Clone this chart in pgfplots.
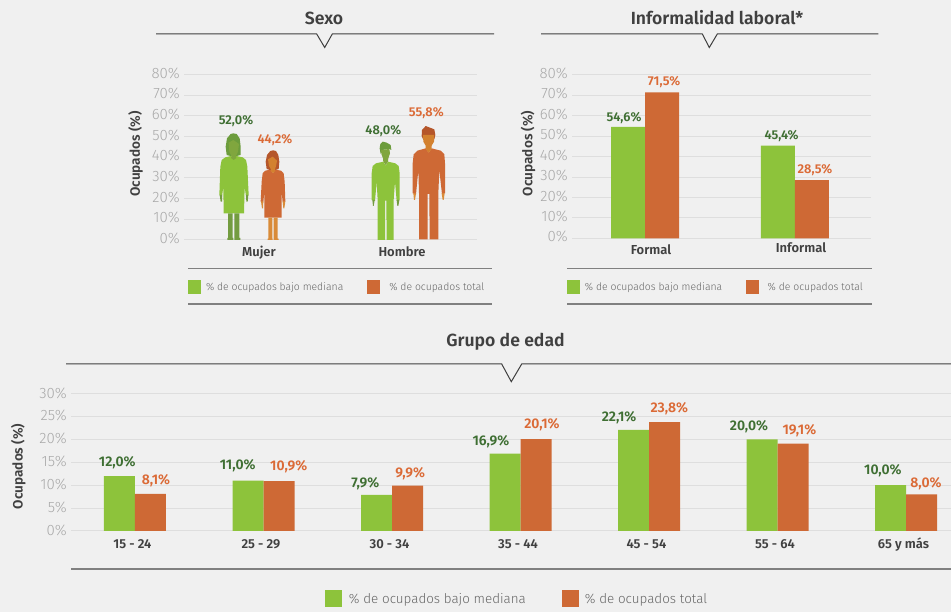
\documentclass[border=0pt]{standalone}
\usepackage{pgfplots}
\pgfplotsset{compat=1.18}
\usepackage{fontspec}
\setmainfont{Fira Sans}
\newfontfamily\fmed{Fira Sans SemiBold}
\newfontfamily\flight{Fira Sans Light}
\definecolor{bg}{HTML}{F0F0F0}
\definecolor{vg}{HTML}{8DC33B}
\definecolor{na}{HTML}{CE6935}
\definecolor{lg}{HTML}{3F6F33}
\definecolor{lo}{HTML}{DB6A36}
\definecolor{gridc}{HTML}{DEDEDE}
\definecolor{tick}{HTML}{A9A9A9}
\definecolor{dk}{HTML}{404040}
\definecolor{gh}{HTML}{6C9C3C}
\definecolor{gf}{HTML}{80A63E}
\definecolor{gl}{HTML}{739C40}
\definecolor{oh}{HTML}{B5562A}
\definecolor{of}{HTML}{D3812F}
\definecolor{ol}{HTML}{D98B38}
\pgfplotsset{
 base/.style={
  scale only axis, clip=false, anchor=south west,
  axis line style={draw=none}, major tick length=0pt,
  ymajorgrids, grid style={gridc,line width=1pt},
  /pgf/number format/assume math mode=true,
  yticklabel style={font=\flight\fontsize{15}{15}\selectfont,text=tick,inner sep=0pt,xshift=-4pt,yshift=1.5pt},
  xticklabel style={font=\fmed\fontsize{13}{14}\selectfont,text=dk,text height=10pt,text depth=3pt},
  yticklabel={\pgfmathprintnumber{\tick}\%},
  legend cell align=left,
  legend image code/.code={\fill[#1] (0pt,-7pt) rectangle (13pt,7pt);},
  legend style={draw=none,fill=none,inner sep=0pt,outer sep=0pt,anchor=west,
    nodes={inner sep=0pt,outer sep=0pt,text=dk!80},
    font=\flight\fontsize{10.4}{12}\selectfont},
 },
 person/.style={forget plot,draw=none,
  x filter/.expression={120+x/3},
  y filter/.expression={(720-y)*80/496}},
}
\newcommand{\vl}[4]{\node[font=\fmed\fontsize{#4}{14}\selectfont,text=#3] at (axis cs:#1) {#2};}
\begin{document}
\begin{tikzpicture}[x=1pt,y=1pt]
\fill[bg] (0,0) rectangle (951,612);
\useasboundingbox (0,0) rectangle (951,612);

% ---------- Sexo
\begin{axis}[base, at={(184pt,372pt)}, width=293pt, height=165.33pt,
  xmin=184, xmax=477, ymin=0, ymax=80, ytick={0,10,...,80},
  xtick={259,402}, xticklabels={Mujer,Hombre}, xticklabel style={yshift=-3pt},
  every axis y label/.style={at={(axis description cs:-0.165,0.52)},rotate=90,anchor=center},
  ylabel={\fmed\fontsize{13.6}{14}\selectfont\color{dk}Ocupados (\%)},
  legend columns=2,
  legend style={at={(axis description cs:0.0137,-0.284)},
    /tikz/column 2/.style={column sep=24pt},/tikz/column 1/.style={column sep=5pt},/tikz/column 3/.style={column sep=9pt}},
]
\addlegendimage{fill=vg,draw=none}\addlegendentry{\% de ocupados bajo mediana}
\addlegendimage{fill=na,draw=none}\addlegendentry{\% de ocupados total}
% woman, green
\addplot[person,fill=vg] coordinates {(333,468)(341,478)(349,468)(368,472)(378,480)(382,500)(386,585)(378,590)(374,560)(372,640)(311,640)(310,560)(306,590)(298,585)(301,500)(305,480)(316,472)};
\addplot[person,fill=gh] coordinates {(320,465)(317,440)(321,415)(332,402)(340,400)(350,402)(359,415)(362,440)(362,465)(350,468)(332,468)};
\addplot[person,fill=gf] coordinates {(326,428)(340,420)(357,432)(354,455)(348,468)(349,474)(341,480)(333,474)(334,468)(328,455)};
\addplot[person,fill=gl] coordinates {(299,585)(306,585)(306,605)(302,605)};
\addplot[person,fill=gl] coordinates {(378,585)(385,585)(383,605)(379,605)};
\addplot[person,fill=gl] coordinates {(324,640)(338,640)(338,714)(340,714)(340,720)(322,720)(322,714)(324,714)};
\addplot[person,fill=gl] coordinates {(343,640)(358,640)(358,714)(361,714)(361,720)(343,720)};
% woman, orange
\addplot[person,fill=na] coordinates {(451,509)(459,519)(466,509)(483,512)(491,520)(494,545)(496,605)(488,607)(485,575)(485,653)(433,653)(433,575)(430,607)(422,605)(425,545)(428,520)(436,512)};
\addplot[person,fill=oh] coordinates {(440,507)(437,485)(441,465)(451,453)(459,451)(468,453)(475,465)(478,485)(476,507)(466,510)(450,510)};
\addplot[person,fill=of] coordinates {(444,478)(458,470)(471,482)(468,498)(465,508)(466,513)(459,519)(452,513)(453,508)(447,498)};
\addplot[person,fill=ol] coordinates {(423,604)(430,604)(429,625)(426,625)};
\addplot[person,fill=ol] coordinates {(488,604)(496,604)(493,625)(490,625)};
\addplot[person,fill=ol] coordinates {(445,653)(457,653)(457,716)(458,716)(458,720)(443,720)(443,716)(445,716)};
\addplot[person,fill=ol] coordinates {(461,653)(473,653)(473,716)(476,716)(476,720)(461,720)};
% man, green
\addplot[person,fill=vg] coordinates {(790,485)(797,497)(804,485)(826,490)(836,498)(839,520)(839,600)(830,603)(825,545)(821,600)(821,720)(800,720)(799,602)(795,602)(795,720)(773,720)(773,600)(770,545)(765,603)(755,600)(755,520)(758,498)(768,490)};
\addplot[person,fill=gh] coordinates {(779,445)(781,432)(788,425)(800,428)(812,435)(814,450)(808,447)(785,450)(782,462)};
\addplot[person,fill=gf] coordinates {(783,450)(808,447)(810,460)(805,475)(804,485)(797,495)(790,485)(789,475)(784,462)};
\addplot[person,fill=gl] coordinates {(757,600)(764,600)(761,618)(759,618)};
\addplot[person,fill=gl] coordinates {(830,600)(838,600)(835,618)(832,618)};
% man, orange
\addplot[person,fill=na] coordinates {(917,445)(926,458)(935,445)(962,452)(973,463)(975,490)(975,580)(966,583)(958,510)(955,580)(955,718)(929,718)(928,582)(923,582)(923,718)(897,718)(897,580)(895,510)(888,583)(878,580)(878,490)(881,463)(892,452)};
\addplot[person,fill=oh] coordinates {(905,408)(906,390)(917,378)(930,383)(943,388)(946,405)(943,418)(935,405)(912,405)(910,420)};
\addplot[person,fill=of] coordinates {(909,405)(942,405)(942,425)(935,437)(935,447)(926,458)(917,447)(917,437)(910,425)};
\addplot[person,fill=ol] coordinates {(880,580)(888,580)(885,600)(882,600)};
\addplot[person,fill=ol] coordinates {(965,580)(974,580)(971,600)(968,600)};
\vl{236,57.7}{52,0\%}{lg}{12.8}
\vl{275,48.4}{44,2\%}{lo}{12.8}
\vl{383.3,52.9}{48,0\%}{lg}{12.8}
\vl{426.3,61.5}{55,8\%}{lo}{12.8}
\end{axis}

% ---------- Informalidad
\begin{axis}[base, at={(572pt,373.7pt)}, width=299pt, height=163.3pt,
  xmin=-0.487, xmax=1.507, ymin=0, ymax=80, ytick={0,10,...,80},
  xtick={0.04,1.04}, xticklabels={Formal,\raisebox{2pt}{Informal}}, xticklabel style={yshift=-3pt},
  every axis y label/.style={at={(axis description cs:-0.147,0.52)},rotate=90,anchor=center},
  ylabel={\fmed\fontsize{13.6}{14}\selectfont\color{dk}Ocupados (\%)},
  legend columns=2,
  legend style={at={(axis description cs:-0.017,-0.3)},
    /tikz/column 2/.style={column sep=24pt},/tikz/column 1/.style={column sep=5pt},/tikz/column 3/.style={column sep=8.5pt}},
]
\addplot[ybar,bar width=34pt,bar shift=-17pt,fill=vg,draw=none] coordinates {(0,54.6)(1,45.4)};
\addlegendentry{\% de ocupados bajo mediana}
\addplot[ybar,bar width=34pt,bar shift=17pt,fill=na,draw=none] coordinates {(0,71.5)(1,28.5)};
\addlegendentry{\% de ocupados total}
\vl{-0.14,59.1}{54,6\%}{lg}{12.8}
\vl{0.127,76.7}{71,5\%}{lo}{12.8}
\vl{0.911,50.3}{45,4\%}{lg}{12.8}
\vl{1.133,33.6}{28,5\%}{lo}{12.8}
\end{axis}

% ---------- Grupo de edad
\begin{axis}[base, at={(71pt,81pt)}, width=880pt, height=137.3pt,
  xmin=-0.498, xmax=6.35, ymin=0, ymax=30, ytick={0,5,...,30},
  xtick={-0.02,0.98,...,5.98}, xticklabels={15 - 24,25 - 29,30 - 34,35 - 44,45 - 54,55 - 64,65 y más},
  xticklabel style={yshift=-4pt},
  yticklabel style={yshift=-0.8pt},
  every axis y label/.style={at={(axis description cs:-0.0600,0.47)},rotate=90,anchor=center},
  ylabel={\fmed\fontsize{13.6}{14}\selectfont\color{dk}Ocupados (\%)},
  legend columns=2,
  legend style={at={(axis description cs:0.2886,-0.495)},
    font=\flight\fontsize{13.4}{14}\selectfont,
    /tikz/column 2/.style={column sep=36pt},/tikz/column 1/.style={column sep=7pt},/tikz/column 3/.style={column sep=6pt}},
  legend image code/.code={\fill[#1] (0pt,-8.5pt) rectangle (17pt,8.5pt);},
]
\addplot[ybar,bar width=31pt,bar shift=-15.5pt,fill=vg,draw=none] coordinates {(0,12.0)(1,11.0)(2,7.9)(3,16.9)(4,22.1)(5,20.0)(6,10.0)};
\addlegendentry{\% de ocupados bajo mediana}
\addplot[ybar,bar width=31pt,bar shift=15.5pt,fill=na,draw=none] coordinates {(0,8.1)(1,10.9)(2,9.9)(3,20.1)(4,23.8)(5,19.1)(6,8.0)};
\addlegendentry{\% de ocupados total}
\vl{-0.138,14.86}{12,0\%}{lg}{14}
\vl{0.163,10.9}{8,1\%}{lo}{14}
\vl{0.799,14.2}{11,0\%}{lg}{14}
\vl{1.196,14.0}{10,9\%}{lo}{14}
\vl{1.792,10.27}{7,9\%}{lg}{14}
\vl{2.142,12.45}{9,9\%}{lo}{14}
\vl{2.77,19.6}{16,9\%}{lg}{14}
\vl{3.167,23.16}{20,1\%}{lo}{14}
\vl{3.767,24.7}{22,1\%}{lg}{14}
\vl{4.158,26.66}{23,8\%}{lo}{14}
\vl{4.778,22.7}{20,0\%}{lg}{14}
\vl{5.17,21.85}{19,1\%}{lo}{14}
\vl{5.82,13.1}{10,0\%}{lg}{14}
\vl{6.155,10.27}{8,0\%}{lo}{14}
\end{axis}

% ---------- Headers and rules
\node[font=\fmed\fontsize{17.6}{20}\selectfont,text=dk] at (324,594) {Sexo};
\node[font=\fmed\fontsize{17.6}{20}\selectfont,text=dk] at (717,594) {Informalidad laboral*};
\node[font=\fmed\fontsize{17.6}{20}\selectfont,text=dk] at (505.5,270) {Grupo de edad};
\draw[dk,line width=1pt] (156,578) -- (316.7,578) -- (324.7,564.5) -- (332.3,578) -- (494,578);
\draw[dk,line width=1pt] (541,578) -- (702.3,578) -- (709.3,564.5) -- (717.3,578) -- (878.3,578);
\draw[dk,line width=1pt] (66,248) -- (501.7,248) -- (511.3,230.3) -- (521.7,248) -- (951,248);
\draw[gray,line width=1.2pt] (188,343.5) -- (492,343.5) (188,308) -- (492,308);
\draw[gray,line width=1.2pt] (567,343.5) -- (871.7,343.5) (567,308) -- (871.7,308);
\draw[gray,line width=1.2pt] (71,43) -- (951,43);
\end{tikzpicture}
\end{document}
